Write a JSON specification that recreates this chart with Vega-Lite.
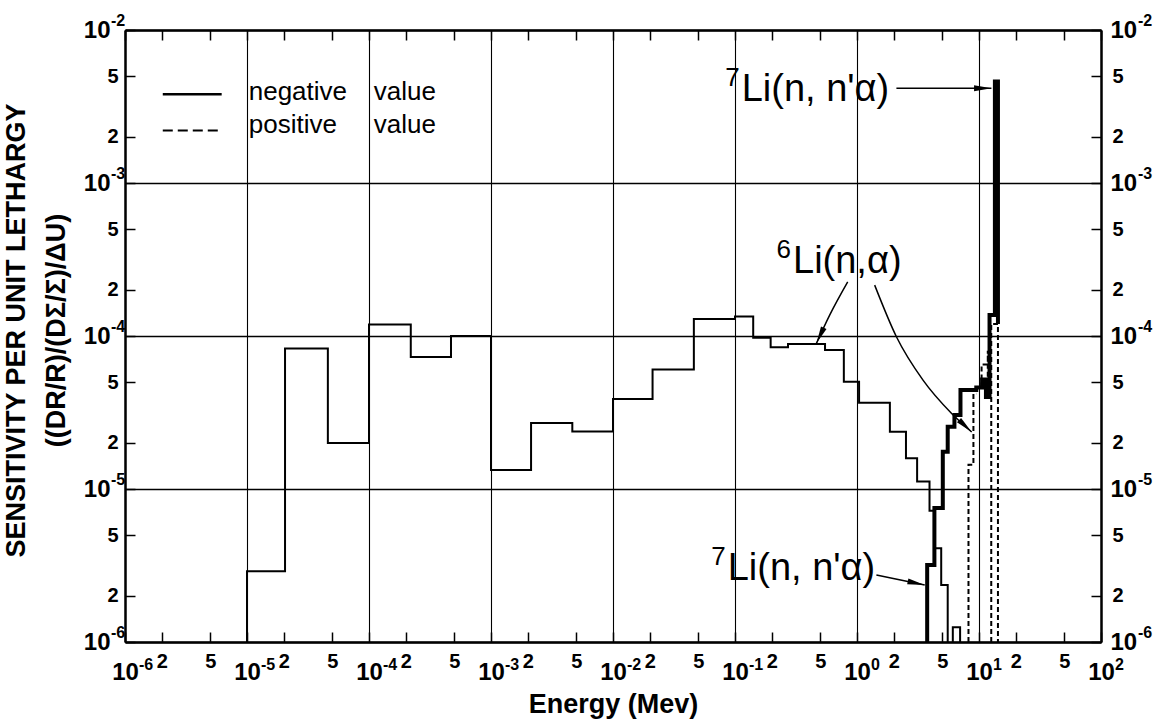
{
  "$schema": "https://vega.github.io/schema/vega-lite/v6.json",
  "width": 976,
  "height": 612,
  "autosize": {"type": "none"},
  "padding": {"left": 125, "top": 30, "right": 61, "bottom": 84},
  "background": "white",
  "config": {"view": {"stroke": null}},
  "datasets": {
    "steps": [
      {"series": "thin", "part": "a", "order": 0, "energy": 1e-5, "value": 1e-6},
      {"series": "thin", "part": "a", "order": 1, "energy": 1e-5, "value": 2.9e-6},
      {"series": "thin", "part": "a", "order": 2, "energy": 2.05e-5, "value": 8.3e-5},
      {"series": "thin", "part": "a", "order": 3, "energy": 4.6e-5, "value": 2.0e-5},
      {"series": "thin", "part": "a", "order": 4, "energy": 1e-4, "value": 1.19e-4},
      {"series": "thin", "part": "a", "order": 5, "energy": 2.2e-4, "value": 7.3e-5},
      {"series": "thin", "part": "a", "order": 6, "energy": 4.7e-4, "value": 1.0e-4},
      {"series": "thin", "part": "a", "order": 7, "energy": 1e-3, "value": 1.33e-5},
      {"series": "thin", "part": "a", "order": 8, "energy": 2.13e-3, "value": 2.7e-5},
      {"series": "thin", "part": "a", "order": 9, "energy": 4.64e-3, "value": 2.38e-5},
      {"series": "thin", "part": "a", "order": 10, "energy": 1e-2, "value": 3.87e-5},
      {"series": "thin", "part": "a", "order": 11, "energy": 2.11e-2, "value": 6.05e-5},
      {"series": "thin", "part": "a", "order": 12, "energy": 4.6e-2, "value": 1.29e-4},
      {"series": "thin", "part": "a", "order": 13, "energy": 0.1, "value": 1.34e-4},
      {"series": "thin", "part": "a", "order": 14, "energy": 0.141, "value": 9.75e-5},
      {"series": "thin", "part": "a", "order": 15, "energy": 0.196, "value": 8.43e-5},
      {"series": "thin", "part": "a", "order": 16, "energy": 0.272, "value": 8.87e-5},
      {"series": "thin", "part": "a", "order": 17, "energy": 0.547, "value": 8.09e-5},
      {"series": "thin", "part": "a", "order": 18, "energy": 0.78, "value": 5.03e-5},
      {"series": "thin", "part": "a", "order": 19, "energy": 1.04, "value": 3.66e-5},
      {"series": "thin", "part": "a", "order": 20, "energy": 1.86, "value": 2.37e-5},
      {"series": "thin", "part": "a", "order": 21, "energy": 2.52, "value": 1.59e-5},
      {"series": "thin", "part": "a", "order": 22, "energy": 3.11, "value": 1.12e-5},
      {"series": "thin", "part": "a", "order": 23, "energy": 3.93, "value": 7.2e-6},
      {"series": "thin", "part": "a", "order": 24, "energy": 4.31, "value": 4.1e-6},
      {"series": "thin", "part": "a", "order": 25, "energy": 4.9, "value": 2.36e-6},
      {"series": "thin", "part": "a", "order": 26, "energy": 5.54, "value": 1e-6},
      {"series": "thin", "part": "b", "order": 0, "energy": 6.1, "value": 1e-6},
      {"series": "thin", "part": "b", "order": 1, "energy": 6.1, "value": 1.25e-6},
      {"series": "thin", "part": "b", "order": 2, "energy": 7.0, "value": 1e-6},
      {"series": "thick", "part": "a", "order": 0, "energy": 3.76, "value": 1e-6},
      {"series": "thick", "part": "a", "order": 1, "energy": 3.76, "value": 3.19e-6},
      {"series": "thick", "part": "a", "order": 2, "energy": 4.31, "value": 7.5e-6},
      {"series": "thick", "part": "a", "order": 3, "energy": 5.05, "value": 1.75e-5},
      {"series": "thick", "part": "a", "order": 4, "energy": 5.54, "value": 2.55e-5},
      {"series": "thick", "part": "a", "order": 5, "energy": 6.29, "value": 3.05e-5},
      {"series": "thick", "part": "a", "order": 6, "energy": 7.05, "value": 4.44e-5},
      {"series": "thick", "part": "a", "order": 7, "energy": 9.5, "value": 4.6e-5},
      {"series": "thick", "part": "a", "order": 8, "energy": 10.6, "value": 5.2e-5},
      {"series": "thick", "part": "a", "order": 9, "energy": 11.4, "value": 4.0e-5},
      {"series": "thick", "part": "a", "order": 10, "energy": 12.2, "value": 1.37e-4},
      {"series": "thick", "part": "a", "order": 11, "energy": 13.5, "value": 4.6e-3},
      {"series": "thick", "part": "a", "order": 12, "energy": 14.3, "value": 1.2e-4},
      {"series": "dashed", "part": "a", "order": 0, "energy": 8.2, "value": 1e-6},
      {"series": "dashed", "part": "a", "order": 1, "energy": 8.2, "value": 1.44e-5},
      {"series": "dashed", "part": "a", "order": 2, "energy": 9.0, "value": 4.2e-5},
      {"series": "dashed", "part": "a", "order": 3, "energy": 9.5, "value": 4.2e-5},
      {"series": "dashed", "part": "b", "order": 0, "energy": 10.5, "value": 4.6e-5},
      {"series": "dashed", "part": "b", "order": 1, "energy": 10.5, "value": 6.5e-5},
      {"series": "dashed", "part": "b", "order": 2, "energy": 11.8, "value": 8.0e-5},
      {"series": "dashed", "part": "b", "order": 3, "energy": 11.8, "value": 4.6e-5},
      {"series": "dashed", "part": "c", "order": 0, "energy": 12.6, "value": 1e-6},
      {"series": "dashed", "part": "c", "order": 1, "energy": 12.6, "value": 1.2e-4},
      {"series": "dashed", "part": "c", "order": 2, "energy": 14.3, "value": 1e-6}
    ],
    "decades": [
      {"e": 1e-6, "exp": "-6"},
      {"e": 1e-5, "exp": "-5"},
      {"e": 1e-4, "exp": "-4"},
      {"e": 1e-3, "exp": "-3"},
      {"e": 1e-2, "exp": "-2"},
      {"e": 1e-1, "exp": "-1"},
      {"e": 1, "exp": "0"},
      {"e": 10, "exp": "1"},
      {"e": 100, "exp": "2"}
    ],
    "legendLines": [
      {"kind": "solid", "energy": 2.04e-6, "value": 3.8e-3},
      {"kind": "solid", "energy": 6.2e-6, "value": 3.8e-3},
      {"kind": "dashed", "energy": 2.04e-6, "value": 2.2e-3},
      {"kind": "dashed", "energy": 6.2e-6, "value": 2.2e-3}
    ],
    "legendText": [
      {"label": "negative", "energy": 1.033e-5, "value": 3.49e-3},
      {"label": "value", "energy": 1.094e-4, "value": 3.49e-3},
      {"label": "positive", "energy": 1.033e-5, "value": 2.11e-3},
      {"label": "value", "energy": 1.094e-4, "value": 2.11e-3}
    ],
    "notes": [
      {"label": "Li(n, n'α)", "mass": "7", "energy": 0.1135, "value": 3.435e-3},
      {"label": "Li(n,α)", "mass": "6", "energy": 0.2988, "value": 2.58e-4},
      {"label": "Li(n, n'α)", "mass": "7", "energy": 0.0871, "value": 2.54e-6}
    ],
    "arrows": [
      {"arrow": "up", "order": 0, "energy": 2.104, "value": 4.16e-3},
      {"arrow": "up", "order": 1, "energy": 12.64, "value": 4.16e-3},
      {"arrow": "low", "order": 0, "energy": 1.442, "value": 2.74e-6},
      {"arrow": "low", "order": 1, "energy": 3.59, "value": 2.36e-6},
      {"arrow": "a1", "order": 0, "energy": 0.839, "value": 2.26e-4},
      {"arrow": "a1", "order": 1, "energy": 0.597, "value": 1.37e-4},
      {"arrow": "a1", "order": 2, "energy": 0.465, "value": 8.95e-5},
      {"arrow": "a2", "order": 0, "energy": 1.396, "value": 2.15e-4},
      {"arrow": "a2", "order": 1, "energy": 2.104, "value": 9.89e-5},
      {"arrow": "a2", "order": 2, "energy": 3.476, "value": 5.15e-5},
      {"arrow": "a2", "order": 3, "energy": 5.94, "value": 3.13e-5},
      {"arrow": "a2", "order": 4, "energy": 8.71, "value": 2.36e-5}
    ],
    "heads": [
      {"arrow": "up", "energy": 12.64, "value": 4.16e-3, "heading": 90},
      {"arrow": "low", "energy": 3.59, "value": 2.36e-6, "heading": 102},
      {"arrow": "a1", "energy": 0.465, "value": 8.95e-5, "heading": 205},
      {"arrow": "a2", "energy": 8.71, "value": 2.36e-5, "heading": 133}
    ]
  },
  "resolve": {"axis": {"x": "independent", "y": "independent"}},
  "layer": [
    {
      "data": {"name": "steps"},
      "transform": [{"filter": "datum.series === 'thin'"}],
      "mark": {"type": "line", "interpolate": "step-after", "color": "black", "strokeWidth": 2, "clip": true},
      "encoding": {
        "x": {
          "field": "energy", "type": "quantitative",
          "scale": {"type": "log", "domain": [1e-6, 100], "nice": false},
          "axis": {
            "orient": "bottom",
            "values": [1e-6, 2e-6, 5e-6, 1e-5, 2e-5, 5e-5, 1e-4, 2e-4, 5e-4, 1e-3, 2e-3, 5e-3, 0.01, 0.02, 0.05, 0.1, 0.2, 0.5, 1, 2, 5, 10, 20, 50, 100],
            "labelExpr": "abs(log(datum.value)/LN10 - round(log(datum.value)/LN10)) < 0.01 ? '10' : '' + round(datum.value / pow(10, floor(log(datum.value)/LN10 + 0.001)))",
            "title": "Energy (Mev)",
            "titleFont": "Liberation Sans", "titleFontSize": 27, "titleFontWeight": "bold", "titleColor": "black",
            "titleX": 488, "titleY": 70, "titleAlign": "center", "titleBaseline": "alphabetic",
            "grid": true, "gridColor": "black", "gridWidth": 1.1,
            "gridOpacity": {"condition": {"test": "abs(log(datum.value)/LN10 - round(log(datum.value)/LN10)) < 0.01", "value": 1}, "value": 0},
            "domain": true, "domainColor": "black", "domainWidth": 2.5,
            "ticks": true, "tickColor": "black", "tickWidth": 1.5, "tickSize": -10,
            "labelFont": "Liberation Sans", "labelFontWeight": "bold", "labelColor": "black",
            "labelFontSize": {"condition": {"test": "abs(log(datum.value)/LN10 - round(log(datum.value)/LN10)) < 0.01", "value": 24}, "value": 20},
            "labelPadding": {"condition": {"test": "abs(log(datum.value)/LN10 - round(log(datum.value)/LN10)) < 0.01", "value": 28}, "value": 19},
            "labelAlign": "center",
            "labelBaseline": "top",
            "labelOverlap": false, "labelFlush": false, "labelBound": false
          }
        },
        "y": {
          "field": "value", "type": "quantitative",
          "scale": {"type": "log", "domain": [1e-6, 1e-2], "nice": false},
          "axis": {
            "orient": "left",
            "values": [1e-6, 2e-6, 5e-6, 1e-5, 2e-5, 5e-5, 1e-4, 2e-4, 5e-4, 1e-3, 2e-3, 5e-3, 1e-2],
            "labelExpr": "abs(log(datum.value)/LN10 - round(log(datum.value)/LN10)) < 0.01 ? '10' : '' + round(datum.value / pow(10, floor(log(datum.value)/LN10 + 0.001)))",
            "title": ["SENSITIVITY PER UNIT LETHARGY", "((DR/R)/(DΣ/Σ)/ΔU)"],
            "titleFont": "Liberation Sans", "titleFontSize": 27, "titleFontWeight": "bold", "titleColor": "black",
            "titleLineHeight": 40, "titleAngle": -90, "titleAlign": "center", "titleBaseline": "middle",
            "titleX": -109, "titleY": 300,
            "grid": true, "gridColor": "black", "gridWidth": 1.5,
            "gridOpacity": {"condition": {"test": "abs(log(datum.value)/LN10 - round(log(datum.value)/LN10)) < 0.01", "value": 1}, "value": 0},
            "domain": true, "domainColor": "black", "domainWidth": 2.5,
            "ticks": true, "tickColor": "black", "tickWidth": 1.5, "tickSize": -10,
            "labelFont": "Liberation Sans", "labelFontWeight": "bold", "labelColor": "black",
            "labelFontSize": {"condition": {"test": "abs(log(datum.value)/LN10 - round(log(datum.value)/LN10)) < 0.01", "value": 24}, "value": 20},
            "labelPadding": {"condition": {"test": "abs(log(datum.value)/LN10 - round(log(datum.value)/LN10)) < 0.01", "value": 25}, "value": 17},
            "labelAlign": "right", "labelBaseline": "middle",
            "labelOverlap": false, "labelFlush": false, "labelBound": false
          }
        },
        "detail": {"field": "part"},
        "order": {"field": "order"}
      }
    },
    {
      "data": {"name": "steps"},
      "transform": [{"filter": "datum.series === 'thick'"}],
      "mark": {"type": "line", "interpolate": "step-after", "color": "black", "strokeWidth": 4, "clip": true},
      "encoding": {
        "x": {
          "field": "energy", "type": "quantitative",
          "scale": {"type": "log", "domain": [1e-6, 100], "nice": false},
          "axis": {
            "orient": "top",
            "values": [1e-6, 2e-6, 5e-6, 1e-5, 2e-5, 5e-5, 1e-4, 2e-4, 5e-4, 1e-3, 2e-3, 5e-3, 0.01, 0.02, 0.05, 0.1, 0.2, 0.5, 1, 2, 5, 10, 20, 50, 100],
            "labels": false, "title": null, "grid": false,
            "domain": true, "domainColor": "black", "domainWidth": 2.5,
            "ticks": true, "tickColor": "black", "tickWidth": 1.5, "tickSize": -10
          }
        },
        "y": {
          "field": "value", "type": "quantitative",
          "scale": {"type": "log", "domain": [1e-6, 1e-2], "nice": false},
          "axis": {
            "orient": "right",
            "values": [1e-6, 2e-6, 5e-6, 1e-5, 2e-5, 5e-5, 1e-4, 2e-4, 5e-4, 1e-3, 2e-3, 5e-3, 1e-2],
            "labelExpr": "abs(log(datum.value)/LN10 - round(log(datum.value)/LN10)) < 0.01 ? '10' : '' + round(datum.value / pow(10, floor(log(datum.value)/LN10 + 0.001)))",
            "title": null, "grid": false,
            "domain": true, "domainColor": "black", "domainWidth": 2.5,
            "ticks": true, "tickColor": "black", "tickWidth": 1.5, "tickSize": -10,
            "labelFont": "Liberation Sans", "labelFontWeight": "bold", "labelColor": "black",
            "labelFontSize": {"condition": {"test": "abs(log(datum.value)/LN10 - round(log(datum.value)/LN10)) < 0.01", "value": 24}, "value": 20},
            "labelPadding": {"condition": {"test": "abs(log(datum.value)/LN10 - round(log(datum.value)/LN10)) < 0.01", "value": 19}, "value": 21},
            "labelAlign": "left", "labelBaseline": "middle",
            "labelOverlap": false, "labelFlush": false, "labelBound": false
          }
        },
        "detail": {"field": "part"},
        "order": {"field": "order"}
      }
    },
    {
      "data": {"name": "steps"},
      "transform": [{"filter": "datum.series === 'dashed'"}],
      "mark": {"type": "line", "interpolate": "step-after", "color": "black", "strokeWidth": 2, "strokeDash": [5, 3], "clip": true},
      "encoding": {
        "x": {"field": "energy", "type": "quantitative", "scale": {"type": "log", "domain": [1e-6, 100], "nice": false}, "axis": null},
        "y": {"field": "value", "type": "quantitative", "scale": {"type": "log", "domain": [1e-6, 1e-2], "nice": false}, "axis": null},
        "detail": {"field": "part"},
        "order": {"field": "order"}
      }
    },
    {
      "data": {"name": "decades"},
      "mark": {"type": "text", "font": "Liberation Sans", "fontWeight": "bold", "fontSize": 16, "align": "left", "baseline": "top", "dx": 14, "dy": 15, "color": "black"},
      "encoding": {
        "x": {"field": "e", "type": "quantitative", "scale": {"type": "log", "domain": [1e-6, 100], "nice": false}, "axis": null},
        "y": {"datum": 1e-6, "type": "quantitative", "scale": {"type": "log", "domain": [1e-6, 1e-2], "nice": false}, "axis": null},
        "text": {"field": "exp"}
      }
    },
    {
      "data": {"name": "decades"},
      "transform": [{"filter": "datum.e <= 0.011"}],
      "mark": {"type": "text", "font": "Liberation Sans", "fontWeight": "bold", "fontSize": 16, "align": "left", "baseline": "middle", "dx": -14, "dy": -9, "color": "black"},
      "encoding": {
        "x": {"datum": 1e-6, "type": "quantitative", "scale": {"type": "log", "domain": [1e-6, 100], "nice": false}, "axis": null},
        "y": {"field": "e", "type": "quantitative", "scale": {"type": "log", "domain": [1e-6, 1e-2], "nice": false}, "axis": null},
        "text": {"field": "exp"}
      }
    },
    {
      "data": {"name": "decades"},
      "transform": [{"filter": "datum.e <= 0.011"}],
      "mark": {"type": "text", "font": "Liberation Sans", "fontWeight": "bold", "fontSize": 16, "align": "left", "baseline": "middle", "dx": 37, "dy": -9, "color": "black"},
      "encoding": {
        "x": {"datum": 100, "type": "quantitative", "scale": {"type": "log", "domain": [1e-6, 100], "nice": false}, "axis": null},
        "y": {"field": "e", "type": "quantitative", "scale": {"type": "log", "domain": [1e-6, 1e-2], "nice": false}, "axis": null},
        "text": {"field": "exp"}
      }
    },
    {
      "data": {"name": "legendLines"},
      "transform": [{"filter": "datum.kind === 'solid'"}],
      "mark": {"type": "line", "color": "black", "strokeWidth": 2.5},
      "encoding": {
        "x": {"field": "energy", "type": "quantitative", "scale": {"type": "log", "domain": [1e-6, 100], "nice": false}, "axis": null},
        "y": {"field": "value", "type": "quantitative", "scale": {"type": "log", "domain": [1e-6, 1e-2], "nice": false}, "axis": null}
      }
    },
    {
      "data": {"name": "legendLines"},
      "transform": [{"filter": "datum.kind === 'dashed'"}],
      "mark": {"type": "line", "color": "black", "strokeWidth": 2, "strokeDash": [10, 5]},
      "encoding": {
        "x": {"field": "energy", "type": "quantitative", "scale": {"type": "log", "domain": [1e-6, 100], "nice": false}, "axis": null},
        "y": {"field": "value", "type": "quantitative", "scale": {"type": "log", "domain": [1e-6, 1e-2], "nice": false}, "axis": null}
      }
    },
    {
      "data": {"name": "legendText"},
      "mark": {"type": "text", "font": "Liberation Sans", "fontSize": 26, "align": "left", "baseline": "alphabetic", "color": "black"},
      "encoding": {
        "x": {"field": "energy", "type": "quantitative", "scale": {"type": "log", "domain": [1e-6, 100], "nice": false}, "axis": null},
        "y": {"field": "value", "type": "quantitative", "scale": {"type": "log", "domain": [1e-6, 1e-2], "nice": false}, "axis": null},
        "text": {"field": "label"}
      }
    },
    {
      "data": {"name": "notes"},
      "mark": {"type": "text", "font": "Liberation Sans", "fontSize": 38, "align": "left", "baseline": "alphabetic", "color": "black"},
      "encoding": {
        "x": {"field": "energy", "type": "quantitative", "scale": {"type": "log", "domain": [1e-6, 100], "nice": false}, "axis": null},
        "y": {"field": "value", "type": "quantitative", "scale": {"type": "log", "domain": [1e-6, 1e-2], "nice": false}, "axis": null},
        "text": {"field": "label"}
      }
    },
    {
      "data": {"name": "notes"},
      "mark": {"type": "text", "font": "Liberation Sans", "fontSize": 26, "align": "right", "baseline": "alphabetic", "dx": -2, "dy": -15, "color": "black"},
      "encoding": {
        "x": {"field": "energy", "type": "quantitative", "scale": {"type": "log", "domain": [1e-6, 100], "nice": false}, "axis": null},
        "y": {"field": "value", "type": "quantitative", "scale": {"type": "log", "domain": [1e-6, 1e-2], "nice": false}, "axis": null},
        "text": {"field": "mass"}
      }
    },
    {
      "data": {"name": "arrows"},
      "mark": {"type": "line", "interpolate": "monotone", "color": "black", "strokeWidth": 1.5},
      "encoding": {
        "x": {"field": "energy", "type": "quantitative", "scale": {"type": "log", "domain": [1e-6, 100], "nice": false}, "axis": null},
        "y": {"field": "value", "type": "quantitative", "scale": {"type": "log", "domain": [1e-6, 1e-2], "nice": false}, "axis": null},
        "detail": {"field": "arrow"},
        "order": {"field": "order"}
      }
    },
    {
      "data": {"name": "heads"},
      "mark": {"type": "point", "shape": "M0,0L-0.35,2L0.35,2Z", "filled": true, "color": "black", "size": 300, "opacity": 1},
      "encoding": {
        "x": {"field": "energy", "type": "quantitative", "scale": {"type": "log", "domain": [1e-6, 100], "nice": false}, "axis": null},
        "y": {"field": "value", "type": "quantitative", "scale": {"type": "log", "domain": [1e-6, 1e-2], "nice": false}, "axis": null},
        "angle": {"field": "heading", "type": "quantitative", "scale": null}
      }
    }
  ]
}
